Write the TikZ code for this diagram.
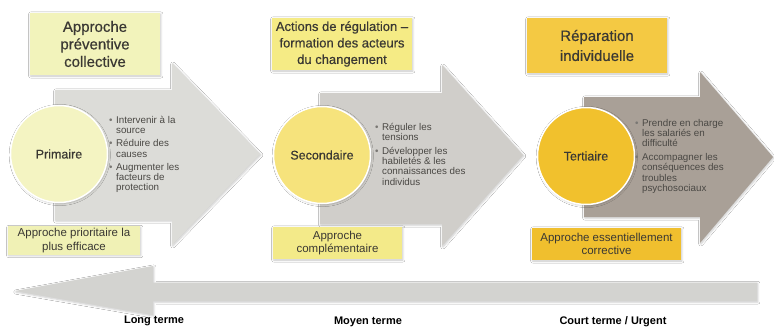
\documentclass[tikz,border=0pt]{standalone}
\usepackage{fontspec}
\setmainfont{Liberation Sans}
\newfontfamily\medium[FakeBold=0.5]{Liberation Sans}
\usetikzlibrary{shadows.blur}
\definecolor{arrA}{HTML}{DCDCD8}
\definecolor{arrB}{HTML}{D0CECA}
\definecolor{arrC}{HTML}{A9A097}
\definecolor{arrD}{HTML}{D3D3D0}
\definecolor{cirA}{HTML}{F4F4C2}
\definecolor{cirB}{HTML}{F6E37C}
\definecolor{cirC}{HTML}{F1C12D}
\definecolor{boxA}{HTML}{F2F3BB}
\definecolor{boxB}{HTML}{F5EB85}
\definecolor{boxC}{HTML}{F4C943}
\definecolor{botA}{HTML}{F0F1B5}
\definecolor{botB}{HTML}{F3EA89}
\definecolor{botC}{HTML}{F0BF2E}
\definecolor{txt}{HTML}{3A3833}
\definecolor{bultxt}{HTML}{4A4844}
\definecolor{bulc}{HTML}{7A7874}
\newcommand\bl{\textcolor{bulc}{\textbullet}}
\begin{document}
\begin{tikzpicture}[x=1pt,y=-1pt,
  shd/.style={blur shadow={shadow xshift=0.8pt,shadow yshift=-1pt,shadow blur steps=5,shadow opacity=22}},
  bigarrow/.style={shd},
  titlebox/.style={shd,inner sep=2pt,align=center,text=txt,font=\medium\fontsize{15}{17.5}\selectfont},
  notebox/.style={shd,inner sep=2pt,align=center,text=txt,font=\fontsize{11.5}{13.5}\selectfont},
  circ/.style={circle,draw=white,line width=1.5pt,minimum size=97pt,inner sep=0pt,text=txt,font=\medium\fontsize{12.5}{14}\selectfont,shd},
  bul/.style={anchor=north west,inner sep=0pt,text=bultxt,font=\fontsize{9.8}{10.2}\selectfont},
  term/.style={text=black,font=\bfseries\fontsize{11}{12}\selectfont}
]
\useasboundingbox (0,0) rectangle (774,327);
\fill[white] (0,0) rectangle (774,327);

% big arrows
\fill[arrA,bigarrow] (55,90) -- (172,90) -- (172,63) -- (260,154) -- (172,245) -- (172,220) -- (55,220) -- cycle;
\fill[arrB,bigarrow] (320,93) -- (442,93) -- (442,65) -- (523,155) -- (442,246) -- (442,224) -- (320,224) -- cycle;
\fill[arrC,bigarrow] (584,97) -- (700,97) -- (700,72) -- (773,157) -- (700,243) -- (700,217) -- (584,217) -- cycle;

% top boxes
\node[titlebox,fill=boxA,minimum width=130pt,minimum height=62pt] (tA) at (95,44) {Approche\\préventive\\collective};
\node[titlebox,fill=boxB,minimum width=140pt,minimum height=52pt,font=\medium\fontsize{13}{16.5}\selectfont] (tB) at (342,44) {Actions de régulation –\\formation des acteurs\\du changement};
\node[titlebox,fill=boxC,minimum width=140pt,minimum height=55pt,font=\medium\fontsize{15}{20}\selectfont] (tC) at (597,45.5) {Réparation\\individuelle};

% circles
\node[circ,fill=cirA] (cA) at (59,154) {Primaire};
\node[circ,fill=cirB] (cB) at (322,155) {Secondaire};
\node[circ,fill=cirC] (cC) at (586,156) {Tertiaire};

% bullet texts
\node[bul] (bA) at (109,116) {\begin{tabular}{@{}l@{\hspace{3.5pt}}l@{}}
\bl & Intervenir à la\\ & source\\[3pt]
\bl & Réduire des\\ & causes\\[3pt]
\bl & Augmenter les\\ & facteurs de\\ & protection
\end{tabular}};
\node[bul] (bB) at (375,123) {\begin{tabular}{@{}l@{\hspace{3.5pt}}l@{}}
\bl & Réguler les\\ & tensions\\[3.5pt]
\bl & Développer les\\ & habiletés \& les\\ & connaissances des\\ & individus
\end{tabular}};
\node[bul] (bC) at (635,119) {\begin{tabular}{@{}l@{\hspace{3.5pt}}l@{}}
\bl & Prendre en charge\\ & les salariés en\\ & difficulté\\[3.5pt]
\bl & Accompagner les\\ & conséquences des\\ & troubles\\ & psychosociaux
\end{tabular}};

% bottom boxes
\node[notebox,fill=botA,minimum width=132pt,minimum height=28pt] (nA) at (74,240.5) {Approche prioritaire la\\plus efficace};
\node[notebox,fill=botB,minimum width=129pt,minimum height=32pt] (nB) at (337.5,243) {Approche\\complémentaire};
\node[notebox,fill=botC,minimum width=149pt,minimum height=32pt] (nC) at (606.5,244) {Approche essentiellement\\corrective};

% time arrow
\fill[arrD,bigarrow] (757,282.5) -- (153,282.5) -- (153,266) -- (15,291) -- (153,315) -- (153,301) -- (757,301) -- cycle;

% term labels
\node[term] (lA) at (154,321) {Long terme};
\node[term] (lB) at (368,322) {Moyen terme};
\node[term] (lC) at (613,322) {Court terme / Urgent};
\end{tikzpicture}
\end{document}
